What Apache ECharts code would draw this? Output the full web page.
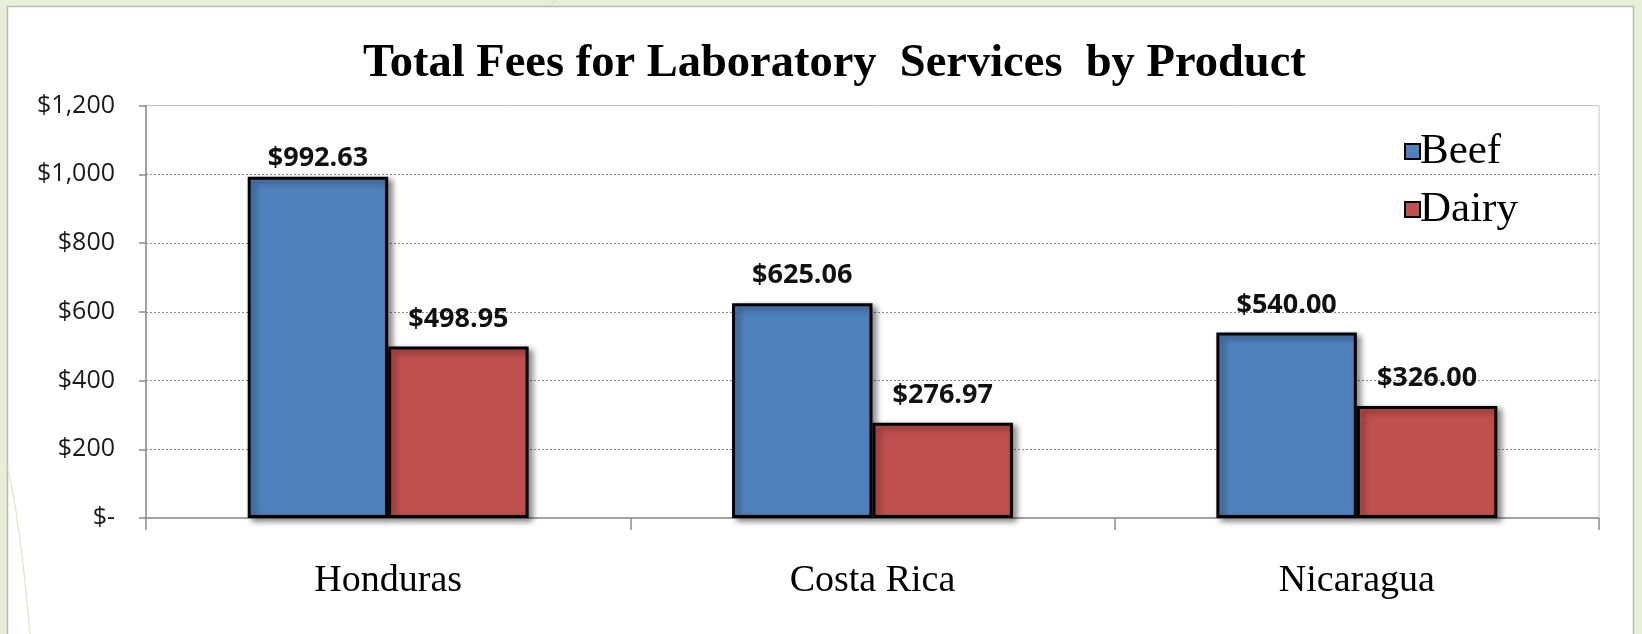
<!DOCTYPE html>
<html>
<head>
<meta charset="utf-8">
<title>Total Fees for Laboratory Services by Product</title>
<script src="https://cdn.jsdelivr.net/npm/echarts@6/dist/echarts.min.js"></script>
<style>
  html, body { margin: 0; padding: 0; background: #e9eed9; }
  #chart { width: 1642px; height: 634px; }
</style>
</head>
<body>
<div id="chart"></div>
<script>
// Countries on the category axis
const countries = ['Honduras', 'Costa Rica', 'Nicaragua'];
// Laboratory fees per country, in dollars
const beefFees = [992.63, 625.06, 540.00];
const dairyFees = [498.95, 276.97, 326.00];
// Value axis labels, from $0 up to $1,200 in steps of $200
const yTickLabels = ['$-', '$200', '$400', '$600', '$800', '$1,000', '$1,200'];

const chart = echarts.init(document.getElementById('chart'));

const serif = '"Liberation Serif", "Times New Roman", serif';
const sans = '"Open Sans", "Noto Sans", sans-serif';

function money(v) {
  return '$' + v.toFixed(2).replace(/\B(?=(\d{3})+(?!\d))/g, ',');
}

// Gap between a bar and its value label; the tallest bar keeps its label closer
function labelGap(seriesName, index) {
  return seriesName === 'Beef' && index === 0 ? 5 : 14;
}

function barSeries(name, data, color) {
  return {
    name: name,
    type: 'bar',
    data: data.map((v, i) => ({ value: v, label: { distance: labelGap(name, i) } })),
    barGap: '0%',
    barCategoryGap: '42%',
    itemStyle: {
      color: color,
      borderColor: '#000',
      borderWidth: 3,
      shadowColor: 'rgba(0,0,0,0.45)',
      shadowBlur: 6,
      shadowOffsetX: 4,
      shadowOffsetY: 3
    },
    label: {
      show: true,
      position: 'top',
      formatter: p => money(p.value),
      fontFamily: sans,
      fontWeight: 'bold',
      fontSize: 27,
      color: '#111'
    }
  };
}

chart.setOption({
  animation: false,
  backgroundColor: 'transparent',
  graphic: [
    {
      type: 'rect',
      z: -10,
      shape: { x: 7.5, y: 6.5, width: 1626, height: 640 },
      style: { fill: '#ffffff', stroke: '#b9bcb0', lineWidth: 1.5 }
    },
    {
      type: 'line',
      z: -11,
      shape: { x1: 556, y1: 0, x2: 541, y2: 16 },
      style: { stroke: '#cdd5b8', lineWidth: 1 }
    },
    {
      type: 'bezierCurve',
      z: -9,
      shape: { x1: 8, y1: 470, cpx1: 20, cpy1: 520, x2: 30, y2: 634 },
      style: { stroke: '#dfe6cc', lineWidth: 1.2, fill: null }
    }
  ],
  title: {
    text: 'Total Fees for Laboratory  Services  by Product',
    left: 358,
    top: 35,
    textStyle: {
      fontFamily: serif,
      fontWeight: 'bold',
      fontSize: 46.5,
      color: '#000'
    }
  },
  legend: {
    orient: 'vertical',
    left: 1399,
    top: 125,
    itemWidth: 15,
    itemHeight: 15,
    itemGap: 15,
    icon: 'rect',
    itemStyle: { borderColor: '#000', borderWidth: 2, shadowBlur: 0, shadowOffsetX: 0, shadowOffsetY: 0 },
    textStyle: { fontFamily: serif, fontSize: 43, color: '#000', padding: [0, 0, 0, -5] },
    data: ['Beef', 'Dairy']
  },
  grid: {
    left: 146,
    right: 43,
    top: 105.5,
    bottom: 116,
    show: true,
    borderColor: '#c4c4bc',
    borderWidth: 1,
    containLabel: false
  },
  xAxis: {
    type: 'category',
    data: countries,
    axisLine: { lineStyle: { color: '#8c8c8c', width: 1.5 } },
    axisTick: { show: true, length: 12, lineStyle: { color: '#8c8c8c', width: 1.5 } },
    axisLabel: {
      margin: 44,
      fontFamily: serif,
      fontSize: 38,
      color: '#000'
    }
  },
  yAxis: {
    type: 'value',
    min: 0,
    max: 1200,
    interval: 200,
    axisLine: { show: true, lineStyle: { color: '#8c8c8c', width: 1.5 } },
    axisTick: { show: true, inside: false, length: 7, lineStyle: { color: '#8c8c8c', width: 1.5 } },
    axisLabel: {
      margin: 31,
      fontFamily: sans,
      fontSize: 25,
      color: '#1a1a1a',
      formatter: v => yTickLabels[Math.round(v / 200)]
    },
    splitLine: {
      show: true,
      showMinLine: false,
      showMaxLine: false,
      lineStyle: { color: '#8a8a8a', type: [2, 2], width: 1 }
    }
  },
  series: [
    barSeries('Beef', beefFees, '#4f81bd'),
    barSeries('Dairy', dairyFees, '#c0504d')
  ]
});
</script>
</body>
</html>
